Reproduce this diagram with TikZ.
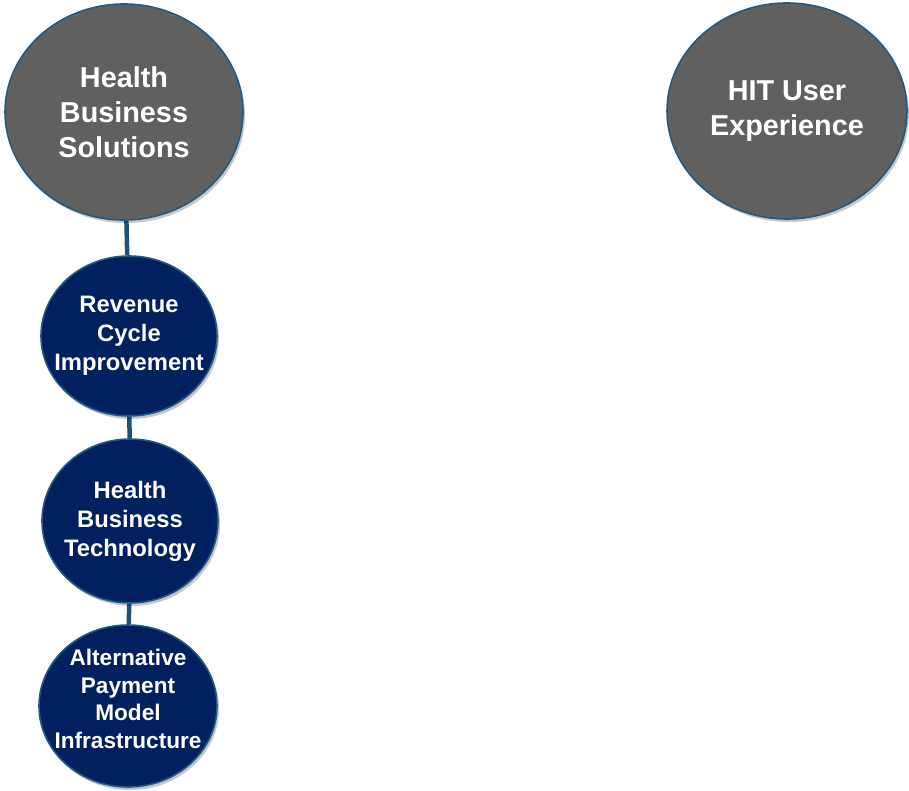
\documentclass[tikz,border=0pt]{standalone}
\usepackage{fontspec}
\setmainfont{Liberation Sans}
\usetikzlibrary{shapes.geometric,shadows,backgrounds}
\definecolor{grayfill}{RGB}{96,96,96}
\definecolor{navyfill}{RGB}{0,32,96}
\definecolor{edgeblue}{RGB}{35,90,130}
\definecolor{connblue}{RGB}{30,82,120}
\begin{document}
\begin{tikzpicture}[x=1pt,y=-1pt,
  bubble/.style={ellipse,draw=edgeblue,line width=1.6pt,inner sep=0pt,
    drop shadow={shadow xshift=2pt,shadow yshift=-3pt,opacity=0.22,fill=black}},
  bigc/.style={bubble,fill=grayfill},
  smallc/.style={bubble,fill=navyfill},
  bigtxt/.style={text=white,align=center,inner sep=0pt,font=\bfseries\fontsize{28.8}{35}\selectfont},
  smalltxt/.style={text=white,align=center,inner sep=0pt,font=\bfseries\fontsize{23.8}{29}\selectfont},
  alttxt/.style={text=white,align=center,inner sep=0pt,yshift=7pt,font=\bfseries\fontsize{22.6}{27.5}\selectfont},
  conn/.style={draw=connblue,line width=4.5pt}]
\useasboundingbox (0,0) rectangle (909,791);
\node[bigc,minimum width=238pt,minimum height=216pt,
  label={[bigtxt]center:Health\\Business\\Solutions}] (hbs) at (124,112) {};
\node[bigc,minimum width=240pt,minimum height=216pt,
  label={[bigtxt]center:HIT User\\Experience}] (hit) at (787,111) {};
\node[smallc,minimum width=176pt,minimum height=160pt,
  label={[smalltxt]center:Revenue\\Cycle\\Improvement}] (rev) at (129,336) {};
\node[smallc,minimum width=176pt,minimum height=164pt,
  label={[smalltxt]center:Health\\Business\\Technology}] (tech) at (130,521) {};
\node[smallc,minimum width=178pt,minimum height=162pt,
  label={[alttxt]center:Alternative\\Payment\\Model\\Infrastructure}] (alt) at (128,706) {};
\begin{pgfonlayer}{background}
\draw[conn] (hbs) -- (rev);
\draw[conn] (rev) -- (tech);
\draw[conn] (tech) -- (alt);
\end{pgfonlayer}
\end{tikzpicture}
\end{document}
